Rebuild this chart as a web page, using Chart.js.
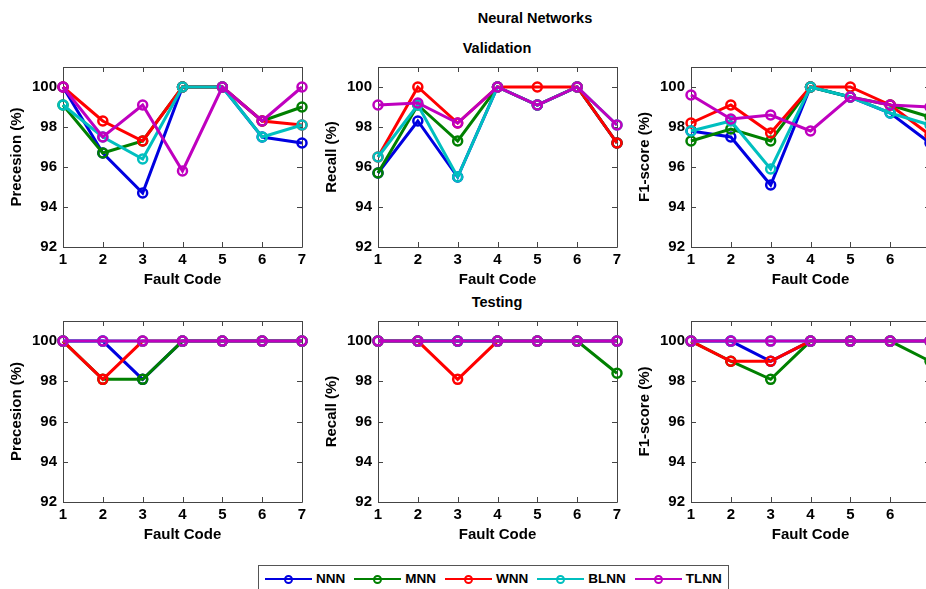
<!DOCTYPE html>
<html><head><meta charset="utf-8">
<script src="https://cdn.jsdelivr.net/npm/chart.js@4"></script>
<style>
html,body{margin:0;padding:0;background:#fff;overflow:hidden;width:926px;height:589px;}
body{position:relative;font-family:'Liberation Sans',Arial,sans-serif;}
canvas{position:absolute;}
.t{position:absolute;font-weight:bold;color:#000;transform:translate(-50%,-50%);white-space:nowrap;font-size:14.5px;}
#legend{position:absolute;left:258px;top:565px;width:471px;height:27px;border:1px solid #555;box-sizing:border-box;display:flex;align-items:center;padding-left:6px;font-weight:bold;font-size:13.5px;background:#fff;}
.item{display:flex;align-items:center;margin-right:9px;}
.sym{position:relative;width:47px;height:12px;margin-right:4px;}
.ln{position:absolute;left:0;right:0;top:5px;height:2.5px;}
.mk{position:absolute;left:19px;top:2px;width:5px;height:5px;border-radius:50%;border:2px solid;background:transparent;}
</style>
</head><body>
<div class="t" style="left:535px;top:18px;">Neural Networks</div>
<div class="t" style="left:497px;top:48px;">Validation</div>
<div class="t" style="left:497px;top:302px;">Testing</div>
<canvas id="c1"></canvas><canvas id="c2"></canvas><canvas id="c3"></canvas>
<canvas id="c4"></canvas><canvas id="c5"></canvas><canvas id="c6"></canvas>
<div id="legend"></div>
<script>
// ---- data ----
const faultCodes = ['1','2','3','4','5','6','7'];
const seriesNames = ['NNN','MNN','WNN','BLNN','TLNN'];
const seriesColors = ['#0000e0','#008000','#ff0000','#00bfbf','#bf00bf'];
const yTicks = [92,94,96,98,100];

// Validation
const valPrecNNN  = [100, 96.7, 94.7, 100, 100, 97.5, 97.2];
const valPrecMNN  = [99.1, 96.7, 97.3, 100, 100, 98.3, 99.0];
const valPrecWNN  = [100, 98.3, 97.3, 100, 100, 98.3, 98.1];
const valPrecBLNN = [99.1, 97.5, 96.4, 100, 100, 97.5, 98.1];
const valPrecTLNN = [100, 97.5, 99.1, 95.8, 100, 98.3, 100];

const valRecNNN  = [95.7, 98.3, 95.5, 100, 99.1, 100, 97.2];
const valRecMNN  = [95.7, 99.1, 97.3, 100, 99.1, 100, 97.2];
const valRecWNN  = [96.5, 100, 98.2, 100, 100, 100, 97.2];
const valRecBLNN = [96.5, 99.1, 95.5, 100, 99.1, 100, 98.1];
const valRecTLNN = [99.1, 99.2, 98.2, 100, 99.1, 100, 98.1];

const valF1NNN  = [97.8, 97.5, 95.1, 100, 99.5, 98.7, 97.2];
const valF1MNN  = [97.3, 97.9, 97.3, 100, 99.5, 99.1, 98.5];
const valF1WNN  = [98.2, 99.1, 97.7, 100, 100, 99.1, 97.6];
const valF1BLNN = [97.8, 98.3, 95.9, 100, 99.5, 98.7, 98.1];
const valF1TLNN = [99.6, 98.4, 98.6, 97.8, 99.5, 99.1, 99.0];

// Testing
const testPrecNNN  = [100, 100, 98.1, 100, 100, 100, 100];
const testPrecMNN  = [100, 98.1, 98.1, 100, 100, 100, 100];
const testPrecWNN  = [100, 98.1, 100, 100, 100, 100, 100];
const testPrecBLNN = [100, 100, 100, 100, 100, 100, 100];
const testPrecTLNN = [100, 100, 100, 100, 100, 100, 100];

const testRecNNN  = [100, 100, 100, 100, 100, 100, 100];
const testRecMNN  = [100, 100, 100, 100, 100, 100, 98.4];
const testRecWNN  = [100, 100, 98.1, 100, 100, 100, 100];
const testRecBLNN = [100, 100, 100, 100, 100, 100, 100];
const testRecTLNN = [100, 100, 100, 100, 100, 100, 100];

const testF1NNN  = [100, 100, 99.0, 100, 100, 100, 100];
const testF1MNN  = [100, 99.0, 98.1, 100, 100, 100, 99.0];
const testF1WNN  = [100, 99.0, 99.0, 100, 100, 100, 100];
const testF1BLNN = [100, 100, 100, 100, 100, 100, 100];
const testF1TLNN = [100, 100, 100, 100, 100, 100, 100];

// ---- layout ----
const YW = 59, XH = 46, PT = 12, PR = 12;
const FONT = {family:"'Liberation Sans', Arial, sans-serif", size:15, weight:'bold'};

const framePlugin = {
  id:'frame',
  beforeDatasetsDraw(chart){
    const {ctx, chartArea:a, scales:{x, y}} = chart;
    ctx.save();
    ctx.strokeStyle = '#444';
    ctx.lineWidth = 1;
    ctx.beginPath();
    ctx.rect(Math.round(a.left)+0.5, Math.round(a.top)+0.5, Math.round(a.right-a.left), Math.round(a.bottom-a.top));
    const L = 5;
    faultCodes.forEach((c,i)=>{
      const px = Math.round(x.getPixelForValue(i))+0.5;
      ctx.moveTo(px, a.bottom); ctx.lineTo(px, a.bottom-L);
      ctx.moveTo(px, a.top); ctx.lineTo(px, a.top+L);
    });
    yTicks.forEach(v=>{
      const py = Math.round(y.getPixelForValue(v))+0.5;
      ctx.moveTo(a.left, py); ctx.lineTo(a.left+L, py);
      ctx.moveTo(a.right, py); ctx.lineTo(a.right-L, py);
    });
    ctx.stroke();
    ctx.restore();
  }
};

function makeChart(id, plotLeft, plotTop, plotW, plotH, yTitle, arrays){
  const cv = document.getElementById(id);
  const w = YW + plotW + PR, h = PT + plotH + XH;
  cv.width = w; cv.height = h;
  cv.style.width = w+'px'; cv.style.height = h+'px';
  cv.style.left = (plotLeft - YW)+'px';
  cv.style.top = (plotTop - PT)+'px';
  new Chart(cv, {
    type:'line',
    data:{
      labels: faultCodes,
      datasets: seriesNames.map((n,i)=>({
        label:n, data:arrays[i],
        borderColor:seriesColors[i], pointBorderColor:seriesColors[i],
        pointBackgroundColor:'rgba(0,0,0,0)', backgroundColor:'rgba(0,0,0,0)',
        borderWidth:3, pointRadius:4.5, pointBorderWidth:2.5, pointHoverRadius:4.5,
        tension:0, clip:false, order:seriesNames.length-1-i
      }))
    },
    options:{
      responsive:false, animation:false, devicePixelRatio:1,
      layout:{padding:{left:0, top:PT, right:PR, bottom:0}},
      plugins:{legend:{display:false}, tooltip:{enabled:false}},
      events:[],
      scales:{
        x:{
          type:'category', offset:false,
          grid:{display:false, drawTicks:false}, border:{display:false},
          ticks:{color:'#000', font:FONT, padding:4, maxRotation:0, autoSkip:false},
          title:{display:true, text:'Fault Code', color:'#000', font:FONT, padding:{top:0,bottom:4}},
          afterFit(s){ s.height = XH; }
        },
        y:{
          min:92, max:101,
          afterBuildTicks(s){ s.ticks = yTicks.map(v=>({value:v})); },
          grid:{display:false, drawTicks:false}, border:{display:false},
          ticks:{color:'#000', font:FONT, padding:6},
          title:{display:true, text:yTitle, color:'#000', font:FONT, padding:{top:4,bottom:0}},
          afterFit(s){ s.width = YW; }
        }
      }
    },
    plugins:[framePlugin]
  });
}

const PW = 239, PH = 183, PH2 = 184;
makeChart('c1', 63, 64, PW, PH, 'Precesion (%)', [valPrecNNN,valPrecMNN,valPrecWNN,valPrecBLNN,valPrecTLNN]);
makeChart('c2', 378, 64, PW, PH, 'Recall (%)', [valRecNNN,valRecMNN,valRecWNN,valRecBLNN,valRecTLNN]);
makeChart('c3', 691, 64, PW, PH, 'F1-score (%)', [valF1NNN,valF1MNN,valF1WNN,valF1BLNN,valF1TLNN]);
makeChart('c4', 63, 318, PW, PH2, 'Precesion (%)', [testPrecNNN,testPrecMNN,testPrecWNN,testPrecBLNN,testPrecTLNN]);
makeChart('c5', 378, 318, PW, PH2, 'Recall (%)', [testRecNNN,testRecMNN,testRecWNN,testRecBLNN,testRecTLNN]);
makeChart('c6', 691, 318, PW, PH2, 'F1-score (%)', [testF1NNN,testF1MNN,testF1WNN,testF1BLNN,testF1TLNN]);

// legend
const lg = document.getElementById('legend');
seriesNames.forEach((n,i)=>{
  const it = document.createElement('div'); it.className='item';
  const sym = document.createElement('span'); sym.className='sym';
  const ln = document.createElement('span'); ln.className='ln'; ln.style.background = seriesColors[i];
  const mk = document.createElement('span'); mk.className='mk'; mk.style.borderColor = seriesColors[i];
  sym.appendChild(ln); sym.appendChild(mk);
  const lab = document.createElement('span'); lab.textContent = n;
  it.appendChild(sym); it.appendChild(lab);
  lg.appendChild(it);
});
</script>
</body></html>
